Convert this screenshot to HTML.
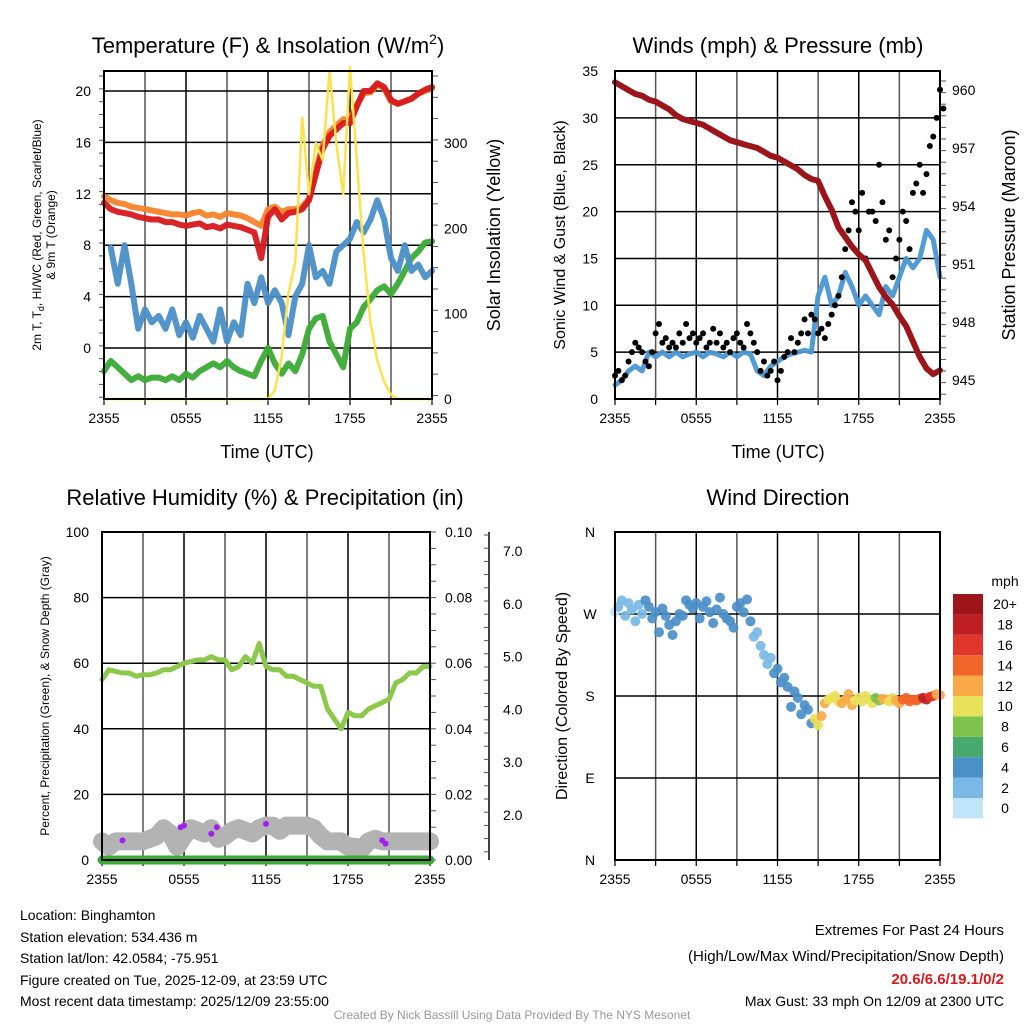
<!DOCTYPE html>
<html><head><meta charset="utf-8"><style>
body{margin:0;background:#fff}
svg{display:block;font-family:"Liberation Sans",sans-serif}
</style></head><body>
<svg id="root" width="1024" height="1024" viewBox="0 0 1024 1024">
<rect width="1024" height="1024" fill="#fff"/>
<g id="g1"></g>
<g id="g2"></g>
<g id="g3"></g>
<g id="g4"></g>
<text x="268" y="53" font-size="22" text-anchor="middle">Temperature (F) &amp; Insolation (W/m<tspan dy="-9" font-size="14">2</tspan><tspan dy="9">)</tspan></text>
<text x="778" y="53" font-size="22" text-anchor="middle">Winds (mph) &amp; Pressure (mb)</text>
<text x="265" y="505" font-size="22" text-anchor="middle">Relative Humidity (%) &amp; Precipitation (in)</text>
<text x="778" y="505" font-size="22" text-anchor="middle">Wind Direction</text>
<text x="267" y="458" font-size="18" text-anchor="middle">Time (UTC)</text>
<text x="778" y="458" font-size="18" text-anchor="middle">Time (UTC)</text>
<text transform="translate(41,235) rotate(-90)" font-size="12" text-anchor="middle">2m T, T<tspan font-size="9" dy="3">d</tspan><tspan dy="-3">, HI/WC (Red, Green, Scarlet/Blue)</tspan></text>
<text transform="translate(55,235) rotate(-90)" font-size="12" text-anchor="middle">&amp; 9m T (Orange)</text>
<text transform="translate(500,235) rotate(-90)" font-size="18" text-anchor="middle">Solar Insolation (Yellow)</text>
<text transform="translate(565,235) rotate(-90)" font-size="16" text-anchor="middle">Sonic Wind &amp; Gust (Blue, Black)</text>
<text transform="translate(1015,235) rotate(-90)" font-size="18" text-anchor="middle">Station Pressure (Maroon)</text>
<text transform="translate(49,696) rotate(-90)" font-size="12" text-anchor="middle">Percent, Precipitation (Green), &amp; Snow Depth (Gray)</text>
<text transform="translate(567,696) rotate(-90)" font-size="16" text-anchor="middle">Direction (Colored By Speed)</text>
<g font-size="14">
<text x="20" y="920">Location: Binghamton</text>
<text x="20" y="942">Station elevation: 534.436 m</text>
<text x="20" y="963">Station lat/lon: 42.0584; -75.951</text>
<text x="20" y="985">Figure created on Tue, 2025-12-09, at 23:59 UTC</text>
<text x="20" y="1006">Most recent data timestamp: 2025/12/09 23:55:00</text>
</g>
<g font-size="15" text-anchor="end">
<text x="1004" y="935">Extremes For Past 24 Hours</text>
<text x="1004" y="961">(High/Low/Max Wind/Precipitation/Snow Depth)</text>
<text x="1004" y="984" fill="#d7191c" font-weight="bold">20.6/6.6/19.1/0/2</text>
<text x="1004" y="1006" font-size="14">Max Gust: 33 mph On 12/09 at 2300 UTC</text>
</g>
<text x="512" y="1019" font-size="12" fill="#999" text-anchor="middle">Created By Nick Bassill Using Data Provided By The NYS Mesonet</text>
</svg>
<script>
const xTickLabels=["2355","0555","1155","1755","2355"];
const temp2m=[11.3,10.8,10.6,10.5,10.4,10.2,10.1,10.0,10.0,9.8,9.8,9.6,9.5,9.6,9.7,9.4,9.5,9.3,9.6,9.5,9.4,9.2,9.0,7.0,10.2,10.8,10.0,10.5,10.6,10.8,11.5,13.5,15.5,16.5,17.0,17.5,17.5,18.8,20.0,20.0,20.6,20.3,19.3,19.0,19.2,19.4,19.8,20.1,20.3];
const temp9m=[11.8,11.5,11.3,11.2,11.0,10.9,10.8,10.7,10.6,10.5,10.4,10.4,10.3,10.5,10.6,10.3,10.4,10.2,10.5,10.4,10.3,10.1,9.8,9.5,10.8,11.0,10.6,10.8,10.8,11.0,11.6,13.8,15.8,16.8,17.3,17.8,17.8,18.9,19.8,19.9,20.5,20.2,19.2,19.0,19.2,19.4,19.8,20.0,20.2];
const windChill=[null,7.8,5.0,8.0,5.0,1.5,3.0,2.0,2.5,1.5,3.0,1.0,2.0,0.8,2.5,1.5,0.5,3.0,0.5,2.0,1.0,5.0,3.5,5.5,3.5,4.5,3.5,1.0,4.0,5.0,8.0,5.5,6.0,5.0,7.5,8.0,8.5,9.8,9.0,10.0,11.5,10.0,7.0,6.0,8.0,6.0,6.5,5.5,6.0];
const dewPoint=[-1.8,-1.0,-1.5,-2.0,-2.5,-2.2,-2.5,-2.3,-2.3,-2.5,-2.2,-2.5,-2.0,-2.3,-1.8,-1.5,-1.2,-1.5,-1.0,-1.5,-1.8,-2.0,-2.2,-1.0,0.0,-1.2,-2.0,-1.2,-1.8,-0.5,1.5,2.3,2.5,0.5,-0.5,-1.5,1.5,2.0,3.2,3.8,4.5,4.8,4.2,5.0,6.0,7.0,7.5,8.2,8.3];
const insolation=[0,0,0,0,0,0,0,0,0,0,0,0,0,0,0,0,0,0,0,0,0,0,0,0,0,10,50,125,160,330,240,300,280,385,300,240,389,280,170,90,45,20,5,0,0,0,0,0,0];
const pressure=[960.4,960.2,960.0,959.8,959.7,959.5,959.4,959.2,959.0,958.7,958.5,958.4,958.3,958.2,958.0,957.8,957.6,957.4,957.3,957.2,957.1,957.0,956.8,956.6,956.5,956.3,956.1,955.9,955.6,955.4,955.3,954.5,953.8,952.9,952.4,951.9,951.5,951.2,950.5,949.8,949.3,948.9,948.3,947.8,947.0,946.2,945.6,945.3,945.5];
const windSpeed=[1.5,2.0,3,3.5,3,5,4.5,5,4.5,5,4.5,4.8,5,4.5,5,4.8,4.5,5,4.5,5,4.8,3,2.5,3.5,4,4.5,4.8,5,5.2,5,11,13,10,11,13.5,12,10,11,10,9,12,11,13,15,14,15,18,17,13];
const windGust=[2.5,3,2,2.5,4,5,6,5.5,5,4,3.5,5,7,8,6,6.5,5.5,6,5.5,7,6,8,6.5,7,6,6.5,7,5.5,6,7.5,6,7,5.5,6,5,6.5,7,6,5.5,8,7,6,5,3,4,2.5,3,4,2,3,4.5,5,6.5,5,6,7,8.5,7,9,8.5,7,7.5,6.5,8,9,10,11,13,16,18,21,20,18,22,15,20,20,19,25,21,17,18,13,15,17,20,19,16,22,23,25,22,24,27,28,30,33,31];
const humidity=[55,58,57.5,57,57,56,56.5,56.5,57,58,58,59,60,60.5,61,61,62,61,61,58,59,62,60,66,59,58,58,56,56,55,54,53,53,46,43,40,45,44,44,46,47,48,49,54,55,57,57,59,59];
const snowDepth=[1.5,1.4,1.5,1.5,1.5,1.5,1.5,1.55,1.6,1.75,1.65,1.4,1.6,1.75,1.7,1.65,1.75,1.55,1.6,1.7,1.75,1.7,1.65,1.75,1.8,1.8,1.7,1.8,1.8,1.8,1.8,1.75,1.6,1.5,1.5,1.5,1.4,1.4,1.35,1.5,1.55,1.5,1.5,1.5,1.5,1.5,1.5,1.5,1.5];
const precip=[0,0,0,0,0,0,0,0,0,0,0,0,0,0,0,0,0,0,0,0,0,0,0,0,0,0,0,0,0,0,0,0,0,0,0,0,0,0,0,0,0,0,0,0,0,0,0,0,0];
const windDir=[272,278,285,268,282,275,262,280,270,285,278,265,272,250,276,268,258,247,262,270,268,285,280,276,282,265,278,284,272,260,275,288,270,265,262,255,278,282,272,286,262,245,250,235,225,215,222,205,210,195,200,190,168,185,178,160,170,165,150,155,148,158,172,176,178,180,174,172,176,182,170,175,178,174,180,176,172,178,175,177,176,174,178,175,172,176,178,174,176,175,177,178,176,179,180,182,181];
const speedColors=["#bfe6f8","#7ab9e5","#4a8fc8","#48a96e","#7cc24d","#e8e15a","#f9aa47","#f26529","#e0352a","#bf1e24","#9b151b"];
const speedLabels=["0","2","4","6","8","10","12","14","16","18","20+"];
const tempTicks=[0,4,8,12,16,20];
const insolTicks=[0,100,200,300];
const windTicks=[0,5,10,15,20,25,30,35];
const presTicks=[945,948,951,954,957,960];
const rhTicks=[0,20,40,60,80,100];
const precipTicks=["0.00","0.02","0.04","0.06","0.08","0.10"];
const snowTicks=["2.0","3.0","4.0","5.0","6.0","7.0"];
const dirLabels=["N","E","S","W","N"];

const NS="http://www.w3.org/2000/svg";
function mk(parent,tag,attrs){const e=document.createElementNS(NS,tag);for(const k in attrs)e.setAttribute(k,attrs[k]);parent.appendChild(e);return e;}
function lin(d0,d1,r0,r1){return v=>r0+(v-d0)*(r1-r0)/(d1-d0);}

function frame(g,L,R,T,B,hVals,yf,name){
  const xf=lin(0,24,L,R);
  for(let h=0;h<=24;h+=3){
    const l=mk(g,'line',{x1:xf(h),x2:xf(h),y1:T,y2:B,stroke:h%6?'#555':'#000','stroke-width':1.5});
    
    
    const t=mk(g,'line',{x1:xf(h),x2:xf(h),y1:B,y2:B+6,stroke:'#000','stroke-width':1.2});
    
    
  }
  hVals.forEach(v=>{
    const l=mk(g,'line',{x1:L,x2:R,y1:yf(v),y2:yf(v),stroke:'#000','stroke-width':1.5});
    
    
  });
  xTickLabels.forEach((s,k)=>{
    const t=mk(g,'text',{x:xf(k*6),y:B+24,'font-size':14,'text-anchor':'middle'});
    t.textContent=s;
    
    
  });
}
function border(g,L,R,T,B,name){
  const r=mk(g,'rect',{x:L,y:T,width:R-L,height:B-T,fill:'none',stroke:'#000','stroke-width':2});
  
  
}
function path(g,arr,xf,yf,stroke,w,name,op){
  let d='';let pen=false;
  arr.forEach((v,i)=>{if(v===null){pen=false;return;}d+=(pen?'L':'M')+xf(i).toFixed(1)+','+yf(v).toFixed(1);pen=true;});
  const p=mk(g,'path',{d:d,fill:'none',stroke:stroke,'stroke-width':w,'stroke-linejoin':'round','stroke-linecap':'round',opacity:op||1});
  
  
  return p;
}
function ylabels(g,ticks,yf,x,anchor,name,fmt){
  ticks.forEach(v=>{
    const t=mk(g,'text',{x:x,y:yf(typeof v==='string'?parseFloat(v):v)+5,'font-size':14,'text-anchor':anchor});
    t.textContent=fmt?fmt(v):v;
    
    
  });
}
function minorTicks(g,x,y0,y1,step,len,name){
  for(let y=y0;y<=y1+0.1;y+=step){
    const l=mk(g,'line',{x1:x,x2:x+len,y1:y,y2:y,stroke:'#555','stroke-width':1});
    
    
  }
}

// Panel 1: temperature
(function(){
  const g=document.getElementById('g1');const L=104,R=432,T=71,B=399;
  const yT=v=>348-12.85*v, yI=v=>399-0.853*v, xi=lin(0,48,L,R);
  frame(g,L,R,T,B,tempTicks,yT,'temp');
  minorTicks(g,R,T+5,B,21.3,6,'insolation-minor-tick');
  minorTicks(g,L-5,T+5,B,12.85,5,'temp-minor-tick');
  path(g,dewPoint,xi,yT,'#3aaa35',6,'dewpoint-line',0.95);
  path(g,windChill,xi,yT,'#4a8fc8',6,'windchill-line',0.95);
  path(g,temp9m,xi,yT,'#f5822b',6,'temp-9m-line',0.95);
  path(g,temp2m,xi,yT,'#d7191c',6,'temp-2m-line',0.95);
  path(g,insolation,xi,yI,'#fde24f',2.5,'insolation-line',1);
  border(g,L,R,T,B,'temp');
  ylabels(g,tempTicks,yT,L-13,'end','temp-ylabel');
  ylabels(g,insolTicks,yI,R+12,'start','insolation-ylabel');
})();

// Panel 2: winds
(function(){
  const g=document.getElementById('g2');const L=615,R=940,T=71,B=399;
  const yW=v=>399-9.37*v, yP=p=>380-(p-945)*19.33, xi=lin(0,48,L,R), xq=lin(0,96,L,R);
  frame(g,L,R,T,B,windTicks,yW,'winds');
  minorTicks(g,R,T+10,B,11.6,6,'pressure-minor-tick');
  path(g,windSpeed,xi,yW,'#4a96d2',5,'wind-speed-line',0.95);
  windGust.forEach((v,j)=>{
    const c=mk(g,'circle',{cx:xq(j),cy:yW(v),r:3,fill:'#000'});
    
    
  });
  path(g,pressure,xi,yP,'#9b151b',6,'pressure-line',1);
  border(g,L,R,T,B,'winds');
  ylabels(g,windTicks,yW,L-17,'end','wind-ylabel');
  ylabels(g,presTicks,yP,R+12,'start','pressure-ylabel');
})();

// Panel 3: humidity
(function(){
  const g=document.getElementById('g3');const L=102,R=430,T=532,B=860;
  const yR=v=>860-3.28*v, yS=v=>551+(7-v)*52.8, xi=lin(0,48,L,R);
  frame(g,L,R,T,B,rhTicks,yR,'rh');
  minorTicks(g,R,T,B,16.4,6,'precip-minor-tick');
  const ax=mk(g,'line',{x1:489,x2:489,y1:532,y2:860,stroke:'#000','stroke-width':1.5});
  
  
  minorTicks(g,484,535,860,13.2,5,'snow-minor-tick');
  path(g,snowDepth,xi,yS,'#b3b3b3',18,'snow-depth-line',1);
  [[3,0.55],[11.5,1],[12.5,0.95],[16.5,1.2],[17.2,1.2],[24.5,1.1],[41,0.65]].forEach(()=>{});
  const purple=[[3,6],[11.5,10],[12,10.5],[16,8],[16.8,10],[24,11],[41,6],[41.5,5]];
  purple.forEach(p=>{
    const c=mk(g,'circle',{cx:xi(p[0]),cy:yR(p[1]),r:3,fill:'#a020f0'});
    
    
  });
  path(g,precip,xi,v=>860-v*3280,'#3aaa35',9,'precip-line',1);
  path(g,humidity,xi,yR,'#8cc84b',5,'humidity-line',1);
  border(g,L,R,T,B,'rh');
  ylabels(g,rhTicks,yR,L-13,'end','rh-ylabel');
  ylabels(g,precipTicks,v=>860-v*3280,R+15,'start','precip-ylabel');
  ylabels(g,snowTicks,yS,503,'start','snow-ylabel');
})();

// Panel 4: direction
(function(){
  const g=document.getElementById('g4');const L=615,R=940,T=532,B=860;
  const yD=d=>860-d*328/360, xq=lin(0,96,L,R);
  frame(g,L,R,T,B,[0,90,180,270,360],yD,'dir');
  windDir.forEach((d,j)=>{
    const s=windSpeed[Math.min(48,Math.round(j/2))];
    const c=mk(g,'circle',{cx:xq(j),cy:yD(d),r:5,fill:speedColors[Math.min(10,Math.floor(s/2))],opacity:0.92});
    
    
  });
  border(g,L,R,T,B,'dir');
  dirLabels.forEach((s,k)=>{
    const t=mk(g,'text',{x:590,y:yD(k*90)+5,'font-size':14,'text-anchor':'middle'});
    t.textContent=s;
    
    
  });
  const cbT=594,h=20.4;
  speedColors.forEach((c,k)=>{
    const y=cbT+(10-k)*h;
    const r=mk(g,'rect',{x:953,y:y,width:30,height:h,fill:c});
    
    
    const t=mk(g,'text',{x:1005,y:y+h/2+5,'font-size':14,'text-anchor':'middle'});
    t.textContent=speedLabels[k];
    
    
  });
  const u=mk(g,'text',{x:1005,y:586,'font-size':14,'text-anchor':'middle'});
  u.textContent='mph';
  
  
})();
</script>
</body></html>
